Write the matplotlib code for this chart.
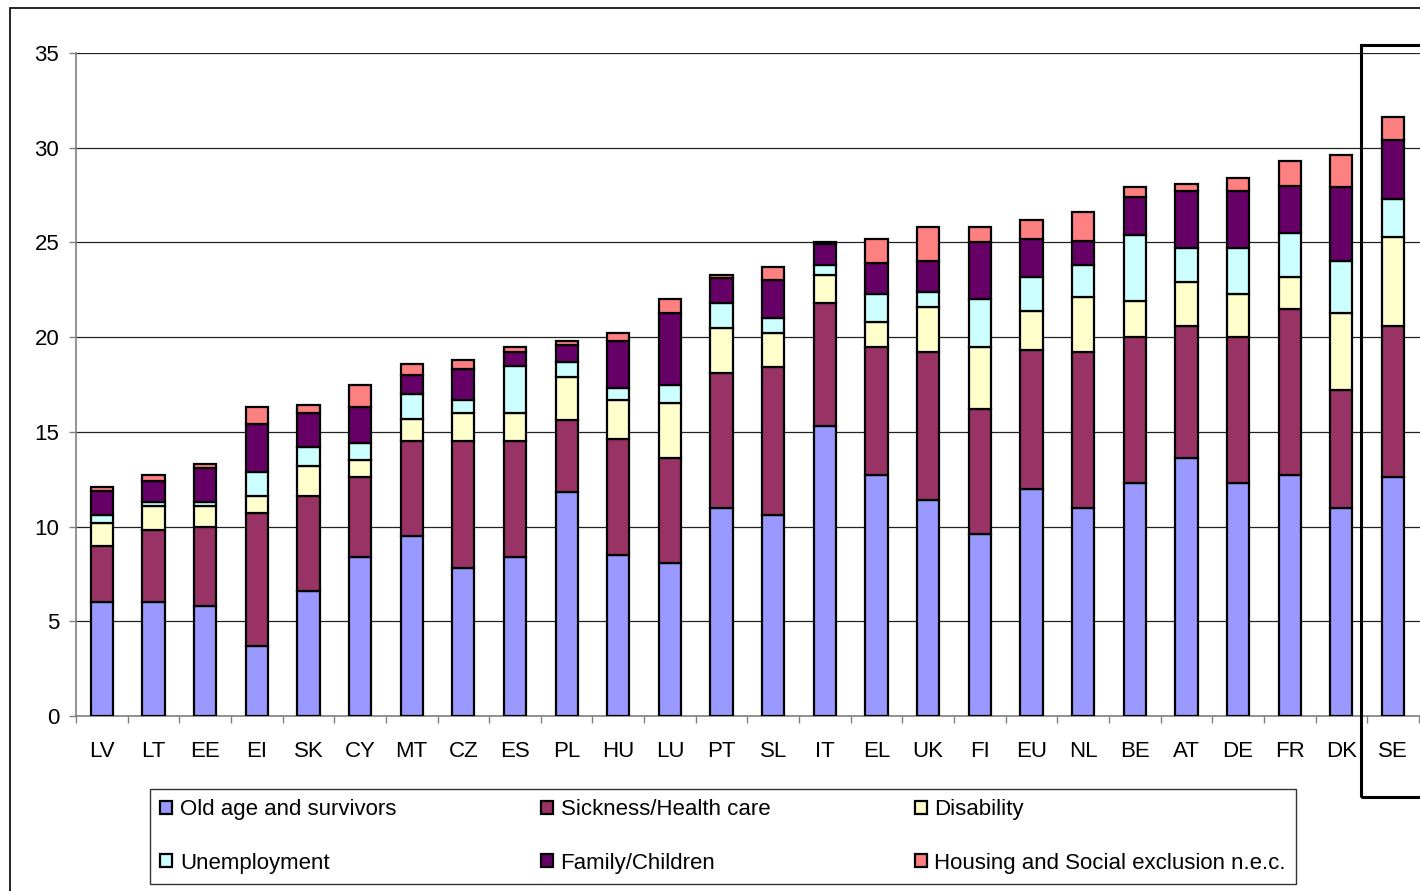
import numpy as np
import matplotlib
matplotlib.use("Agg")
import matplotlib.pyplot as plt
from matplotlib.patches import Rectangle

plt.rcParams['font.family'] = ['Liberation Sans', 'DejaVu Sans']

# ------------------------------------------------------------------
# Datos (% del PIB por función)
# ------------------------------------------------------------------
paises = ["LV", "LT", "EE", "EI", "SK", "CY", "MT", "CZ", "ES", "PL", "HU", "LU", "PT",
          "SL", "IT", "EL", "UK", "FI", "EU", "NL", "BE", "AT", "DE", "FR", "DK", "SE"]

vejez      = [6.0, 6.0, 5.8, 3.7, 6.6, 8.4, 9.5, 7.8, 8.4, 11.8, 8.5, 8.1, 11.0,
              10.6, 15.3, 12.7, 11.4, 9.6, 12.0, 11.0, 12.3, 13.6, 12.3, 12.7, 11.0, 12.6]
salud      = [3.0, 3.8, 4.2, 7.0, 5.0, 4.2, 5.0, 6.7, 6.1, 3.8, 6.1, 5.5, 7.1,
              7.8, 6.5, 6.8, 7.8, 6.6, 7.3, 8.2, 7.7, 7.0, 7.7, 8.8, 6.2, 8.0]
invalidez  = [1.2, 1.3, 1.1, 0.9, 1.6, 0.9, 1.2, 1.5, 1.5, 2.3, 2.1, 2.9, 2.4,
              1.8, 1.5, 1.3, 2.4, 3.3, 2.1, 2.9, 1.9, 2.3, 2.3, 1.7, 4.1, 4.7]
desempleo  = [0.4, 0.2, 0.2, 1.3, 1.0, 0.9, 1.3, 0.7, 2.5, 0.8, 0.6, 1.0, 1.3,
              0.8, 0.5, 1.5, 0.8, 2.5, 1.8, 1.7, 3.5, 1.8, 2.4, 2.3, 2.7, 2.0]
familia    = [1.3, 1.1, 1.8, 2.5, 1.8, 1.9, 1.0, 1.6, 0.7, 0.9, 2.5, 3.8, 1.3,
              2.0, 1.1, 1.6, 1.6, 3.0, 2.0, 1.3, 2.0, 3.0, 3.0, 2.5, 3.9, 3.1]
vivienda   = [0.2, 0.3, 0.2, 0.9, 0.4, 1.2, 0.6, 0.5, 0.3, 0.2, 0.4, 0.7, 0.2,
              0.7, 0.1, 1.3, 1.8, 0.8, 1.0, 1.5, 0.5, 0.4, 0.7, 1.3, 1.7, 1.2]

series = [
    ("Old age and survivors", vejez, "#9999FF"),
    ("Sickness/Health care", salud, "#993366"),
    ("Disability", invalidez, "#FFFFCC"),
    ("Unemployment", desempleo, "#CCFFFF"),
    ("Family/Children", familia, "#660066"),
    ("Housing and Social exclusion n.e.c.", vivienda, "#FF8080"),
]

# ------------------------------------------------------------------
# Figura
# ------------------------------------------------------------------
W, H = 1420, 891
fig = plt.figure(figsize=(W / 100, H / 100), dpi=100)
fig.patch.set_facecolor('white')

ax = fig.add_axes([76 / W, 1 - 716 / H, (W - 76) / W, (716 - 53) / H])
x = np.arange(len(paises))

base = np.zeros(len(paises))
handles = []
for nombre, vals, color in series:
    vals = np.array(vals)
    b = ax.bar(x, vals, width=0.43, bottom=base, color=color,
               edgecolor='black', linewidth=1.6, label=nombre, zorder=3)
    handles.append(b)
    base += vals

ax.set_ylim(0, 35)
ax.set_xlim(-0.5, (W - 101) / 51.68)
ax.set_yticks(np.arange(0, 36, 5))
ax.yaxis.grid(True, color='#222222', linewidth=0.9, zorder=0)
ax.set_axisbelow(True)

for lado in ['top', 'right']:
    ax.spines[lado].set_visible(False)
for lado in ['left', 'bottom']:
    ax.spines[lado].set_color('#808080')
    ax.spines[lado].set_linewidth(1.2)

ax.tick_params(axis='y', length=5, width=1, color='#808080', pad=7,
               labelsize=16)
ax.set_xticks(np.arange(-0.5, len(paises), 1.0))
ax.set_xticklabels([])
ax.set_xticks(x, minor=True)
ax.set_xticklabels(paises, minor=True)
ax.tick_params(axis='x', which='major', length=5, width=1, color='#808080')
ax.tick_params(axis='x', which='minor', length=0, pad=18, labelsize=16)

# Marco exterior y recuadro de SE
fig.patches.append(Rectangle((10 / W, -0.05), 1.1, 1 - 8 / H + 0.05,
                             transform=fig.transFigure, fill=False,
                             edgecolor='black', linewidth=1.2, clip_on=False))
fig.patches.append(Rectangle((1361 / W, 1 - 797 / H), 0.1, (797 - 45) / H,
                             transform=fig.transFigure, fill=False,
                             edgecolor='black', linewidth=2.2, clip_on=False))

# Leyenda: filas como en el original
orden = [0, 3, 1, 4, 2, 5]
leg = fig.legend([handles[i] for i in orden], [series[i][0] for i in orden],
                 ncol=3, loc='center', mode='expand',
                 bbox_to_anchor=(150 / W, 1 - 886 / H, (1296 - 150) / W, (886 - 787) / H),
                 fontsize=16, frameon=True, fancybox=False, edgecolor='black',
                 handlelength=0.55, handleheight=0.55, handletextpad=0.35,
                 labelspacing=1.45, borderaxespad=0, borderpad=0.45)
leg.get_frame().set_linewidth(1.0)

fig.savefig("out.png", dpi=100, facecolor='white')
